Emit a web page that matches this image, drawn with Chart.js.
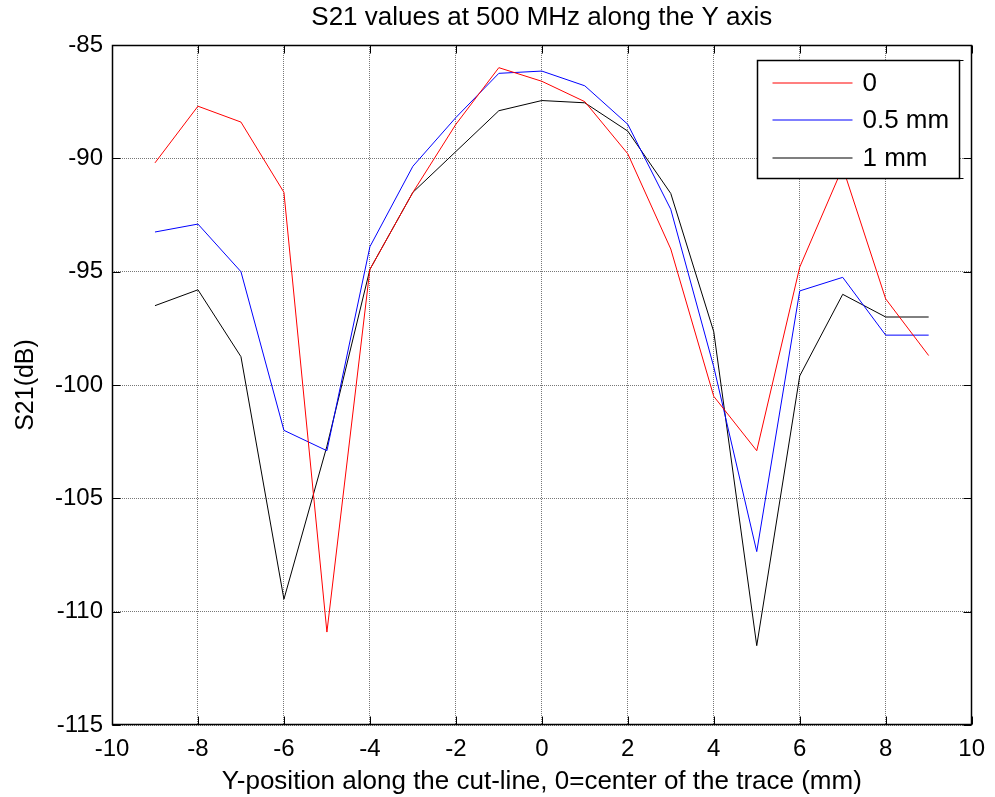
<!DOCTYPE html>
<html>
<head>
<meta charset="utf-8">
<title>S21 values at 500 MHz along the Y axis</title>
<script src="https://cdn.jsdelivr.net/npm/chart.js@4.4.1/dist/chart.umd.min.js"></script>
<style>
  html, body { margin: 0; padding: 0; background: #fff; }
  #wrap { width: 995px; height: 797px; }
</style>
</head>
<body>
<div id="wrap"><canvas id="s21Chart" width="995" height="797"></canvas></div>
<script>
// positions along the cut-line (mm)
const positions = [-9, -8, -7, -6, -5, -4, -3, -2, -1, 0, 1, 2, 3, 4, 5, 6, 7, 8, 9];

// S21 (dB) for each offset
const s21Offset0  = [-90.2, -87.7, -88.4, -91.5, -110.9, -94.9, -91.5, -88.5, -86.0, -86.6, -87.5, -89.8, -94.0, -100.5, -102.9, -94.8, -90.4, -96.2, -98.7];
const s21Offset05 = [-93.25, -92.9, -95.0, -102.0, -102.9, -93.9, -90.35, -88.2, -86.25, -86.15, -86.8, -88.5, -92.25, -99.2, -107.35, -95.85, -95.25, -97.8, -97.8];
const s21Offset1  = [-96.5, -95.8, -98.75, -109.45, -102.7, -94.9, -91.5, -89.7, -87.9, -87.45, -87.55, -88.8, -91.55, -97.65, -111.5, -99.6, -96.0, -97.0, -97.0];

const seriesLabels = ["0", "0.5 mm", "1 mm"];
const seriesColors = ["#ff0000", "#0000ff", "#000000"];

// tick labels
const xTickValues = [-10, -8, -6, -4, -2, 0, 2, 4, 6, 8, 10];
const yTickValues = [-115, -110, -105, -100, -95, -90, -85];

const chartTitle = "S21 values at 500 MHz along the Y axis";
const xTitle = "Y-position along the cut-line, 0=center of the trace (mm)";
const yTitle = "S21(dB)";

const FONT = "'Liberation Sans', Arial, sans-serif";
Chart.defaults.font.family = FONT;
Chart.defaults.color = "#000";

function toPoints(values) {
    return positions.map((x, i) => ({ x: x, y: values[i] }));
}

// matlab look: title over the axes, closed box, inward ticks, legend inside the axes
const matlabFrame = {
    id: "matlabFrame",
    afterDraw(chart) {
        const ctx = chart.ctx;
        const area = chart.chartArea;
        const xs = chart.scales.x;
        const ys = chart.scales.y;
        const left = Math.round(area.left) + 0.5;
        const right = Math.round(area.right) - 0.5;
        const top = Math.round(area.top) + 0.5;
        const bottom = Math.round(area.bottom) - 0.5;
        const tick = 8;

        ctx.save();
        ctx.fillStyle = "#000";
        ctx.font = "26px " + FONT;
        ctx.textAlign = "center";
        ctx.textBaseline = "middle";
        ctx.fillText(chartTitle, (area.left + area.right) / 2, 18);

        ctx.strokeStyle = "#000";
        ctx.lineWidth = 1;
        ctx.setLineDash([]);
        ctx.beginPath();
        xTickValues.forEach(v => {
            const px = Math.round(xs.getPixelForValue(v)) + 0.5;
            ctx.moveTo(px, bottom); ctx.lineTo(px, bottom - tick);
            ctx.moveTo(px, top); ctx.lineTo(px, top + tick);
        });
        yTickValues.forEach(v => {
            const py = Math.round(ys.getPixelForValue(v)) + 0.5;
            ctx.moveTo(left, py); ctx.lineTo(left + tick, py);
            ctx.moveTo(right, py); ctx.lineTo(right - tick, py);
        });
        ctx.stroke();
        ctx.lineWidth = 1.5;
        ctx.strokeRect(left, top, right - left, bottom - top);

        // legend box
        const lw = 202, lh = 118;
        const lx = Math.round(area.right - 13 - lw) + 0.5;
        const ly = Math.round(area.top + 15) + 0.5;
        ctx.fillStyle = "#fff";
        ctx.fillRect(lx, ly, lw, lh);
        ctx.strokeStyle = "#000";
        ctx.lineWidth = 1.5;
        ctx.strokeRect(lx, ly, lw, lh);
        ctx.lineWidth = 1;
        ctx.beginPath();
        ctx.moveTo(lx + lw, ly); ctx.lineTo(lx + lw + 4, ly);
        ctx.moveTo(lx + lw, ly + lh); ctx.lineTo(lx + lw + 4, ly + lh);
        ctx.stroke();

        ctx.font = "26px " + FONT;
        ctx.textAlign = "left";
        seriesLabels.forEach((label, i) => {
            // whole-pixel y so the sample line spreads over two rows like the original
            const rowY = Math.round(ly + 22 + i * 37.5);
            ctx.strokeStyle = seriesColors[i];
            ctx.lineWidth = 1.2;
            ctx.beginPath();
            ctx.moveTo(lx + 15, rowY);
            ctx.lineTo(lx + 95, rowY);
            ctx.stroke();
            ctx.fillStyle = "#000";
            ctx.fillText(label, lx + 105, rowY + 1);
        });
        ctx.restore();
    }
};

new Chart(document.getElementById("s21Chart").getContext("2d"), {
    type: "line",
    data: {
        datasets: [s21Offset0, s21Offset05, s21Offset1].map((values, i) => ({
            label: seriesLabels[i],
            data: toPoints(values),
            borderColor: seriesColors[i],
            borderWidth: 1,
            pointRadius: 0,
            tension: 0,
            fill: false
        }))
    },
    options: {
        responsive: false,
        animation: false,
        devicePixelRatio: 1,
        layout: { padding: { top: 45, right: 18, bottom: 0, left: 0 } },
        plugins: {
            legend: { display: false },
            tooltip: { enabled: false },
            title: { display: false }
        },
        scales: {
            x: {
                type: "linear",
                min: -10,
                max: 10,
                afterBuildTicks: s => { s.ticks = xTickValues.map(v => ({ value: v })); },
                afterFit: s => { s.height = 72; },
                ticks: { padding: 10, font: { size: 24 }, color: "#000", maxRotation: 0, autoSkip: false, callback: v => String(v) },
                grid: { color: "#777", drawTicks: false },
                border: { display: false, dash: [1, 1] },
                title: { display: true, text: xTitle, color: "#000", font: { size: 26 }, padding: { top: 0, bottom: 0 } }
            },
            y: {
                type: "linear",
                min: -115,
                max: -85,
                afterBuildTicks: s => { s.ticks = yTickValues.map(v => ({ value: v })); },
                afterFit: s => { s.width = 112; },
                ticks: { padding: 9, font: { size: 24 }, color: "#000", autoSkip: false, callback: v => String(v) },
                grid: { color: "#777", drawTicks: false },
                border: { display: false, dash: [1, 1] },
                title: { display: true, text: yTitle, color: "#000", font: { size: 25 }, padding: { top: 11, bottom: 0 } }
            }
        }
    },
    plugins: [matlabFrame]
});
</script>
</body>
</html>
